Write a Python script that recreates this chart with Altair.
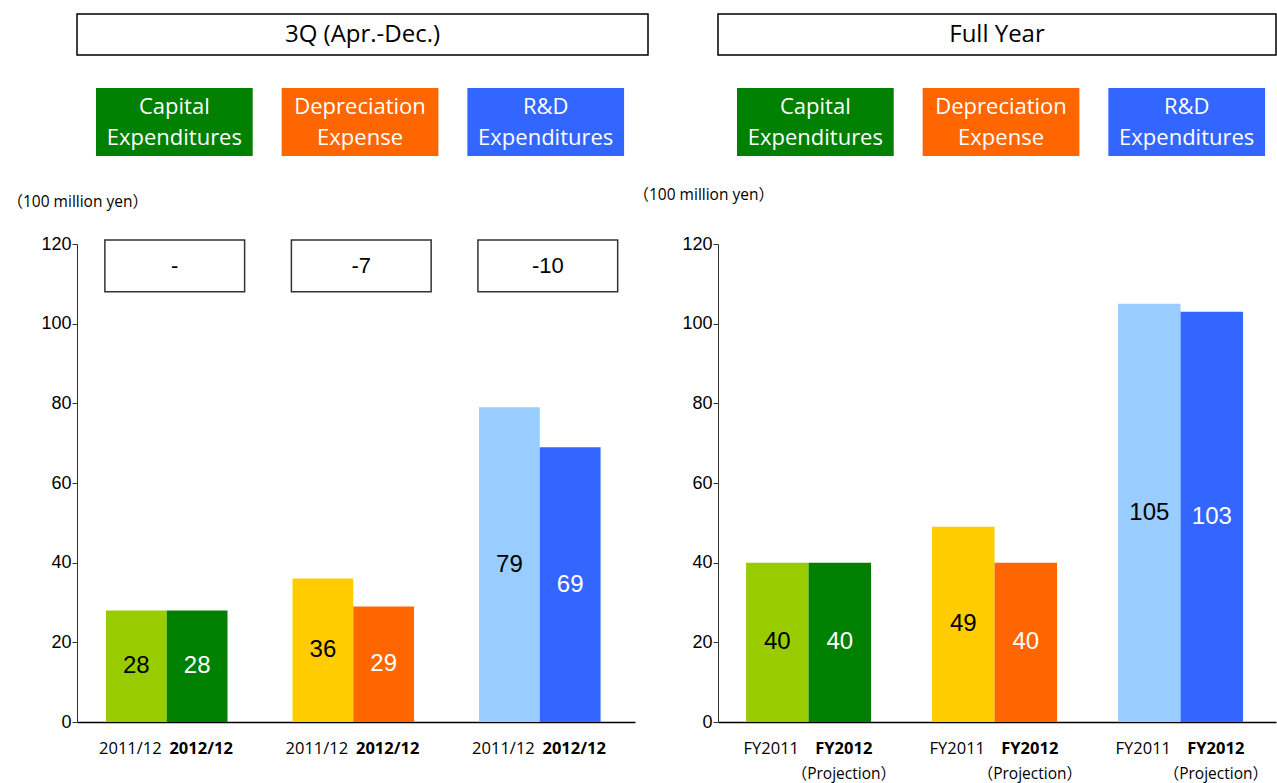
import altair as alt
import pandas as pd

# ---- data -------------------------------------------------------------
categories = ["Capital Expenditures", "Depreciation Expense", "R&D Expenditures"]
legend_lines = ["Capital\nExpenditures", "Depreciation\nExpense", "R&D\nExpenditures"]

q3_title = "3Q (Apr.-Dec.)"
q3_periods = ["2011/12", "2012/12"]
q3_capex = [28, 28]
q3_depreciation = [36, 29]
q3_rnd = [79, 69]
q3_change = ["-", "-7", "-10"]

fy_title = "Full Year"
fy_periods = ["FY2011", "FY2012"]
fy_notes = ["", "（Projection）"]
fy_capex = [40, 40]
fy_depreciation = [49, 40]
fy_rnd = [105, 103]

y_ticks = [0, 20, 40, 60, 80, 100, 120]
unit_label = "（100 million yen）"

# ---- styling ----------------------------------------------------------
prior_colors = ["#99CC00", "#FFCC00", "#99CCFF"]
current_colors = ["#008000", "#FF6600", "#3366FF"]
TXT_FONT = "'Open Sans', 'Noto Sans CJK JP', sans-serif"
NUM_FONT = "'Liberation Sans', Arial, sans-serif"
PANEL_W = 558
PLOT_H = 478

shade_domain = [f"{c}|{i}" for c in categories for i in (0, 1)]
shade_range = [col for pair in zip(prior_colors, current_colors) for col in pair]


def frame(periods, series, notes=None):
    rows = []
    for cat, vals in zip(categories, series):
        for i, (p, v) in enumerate(zip(periods, vals)):
            rows.append({
                "category": cat,
                "period": p,
                "value": v,
                "shade": f"{cat}|{i}",
                "note": notes[i] if notes else "",
            })
    return pd.DataFrame(rows)


def header(title, width):
    return alt.Chart(pd.DataFrame({"title": [title]})).mark_text(
        font=TXT_FONT, fontSize=24, baseline="middle", color="black"
    ).encode(text="title:N").properties(
        width=width, height=41,
        view=alt.ViewBackground(stroke="black", strokeWidth=1.5, fill="white"),
    )


def legend_row():
    ldf = pd.DataFrame({"category": categories, "label": legend_lines})
    base = alt.Chart(ldf).transform_calculate(slot="'box'")
    x = alt.X("category:N", sort=categories, axis=None,
              scale=alt.Scale(paddingInner=0.156, paddingOuter=0.0805, align=0.635))
    y = alt.Y("slot:N", axis=None,
              scale=alt.Scale(paddingInner=0, paddingOuter=0.404, align=0))
    boxes = base.mark_bar().encode(
        x=x, y=y,
        color=alt.Color("category:N", legend=None,
                        scale=alt.Scale(domain=categories, range=current_colors)),
    )
    text = base.mark_text(
        font=TXT_FONT, fontSize=22, color="white", lineBreak="\n",
        lineHeight=31, baseline="middle", dy=-15.5,
    ).encode(x=x, y=y, text="label:N")
    return alt.layer(boxes, text).properties(width=PANEL_W, height=123)


def bars_panel(df, periods, x_scale, title_x, title_y, change=None, notes=False):
    base = alt.Chart(df)
    x_axis = alt.Axis(labels=False, ticks=False, title=None,
                      domainColor="black", domainWidth=1.6)
    y_scale = alt.Scale(domain=[0, 120], nice=False, zero=True)
    y_axis = alt.Axis(
        values=y_ticks, grid=False, tickSize=5, tickColor="#333",
        domainColor="#333", domainWidth=1, labelFont=NUM_FONT,
        labelFontSize=18, labelColor="black", labelPadding=1,
        title=unit_label, titleAngle=0, titleAlign="left",
        titleBaseline="middle", titleX=title_x, titleY=title_y,
        titleFont=TXT_FONT, titleFontSize=15.5, titleFontWeight="normal",
        titleColor="black",
    )
    x_enc = alt.X("category:N", sort=categories, scale=x_scale, axis=x_axis)
    x_off = alt.XOffset("period:N", sort=periods,
                        scale=alt.Scale(paddingInner=0, paddingOuter=0))

    def y_field(field):
        return alt.Y(field, scale=y_scale, axis=y_axis)

    def y_const(v):
        return alt.YDatum(v, scale=y_scale, axis=y_axis)

    bars = base.mark_bar().encode(
        x=x_enc, xOffset=x_off, y=y_field("value:Q"),
        color=alt.Color("shade:N", legend=None,
                        scale=alt.Scale(domain=shade_domain, range=shade_range)),
    )

    values = base.transform_calculate(mid="datum.value / 2").mark_text(
        font=NUM_FONT, fontSize=24, baseline="middle"
    ).encode(
        x=x_enc, xOffset=x_off,
        y=y_field("mid:Q"),
        text="value:Q",
        color=alt.condition(alt.datum.period == periods[0],
                            alt.value("black"), alt.value("white")),
    )

    # period labels under each bar: the earlier one plain, the later one bold
    prior_lbl = base.transform_filter(alt.datum.period == periods[0]).mark_text(
        font=TXT_FONT, fontSize=16.5, baseline="middle", dy=27, dx=-6, color="black"
    ).encode(x=x_enc, xOffset=x_off, y=y_const(0), text="period:N")

    current_lbl = base.transform_filter(alt.datum.period == periods[1]).mark_text(
        font=TXT_FONT, fontSize=16.5, fontWeight="bold", baseline="middle", dy=27,
        dx=4, color="black",
    ).encode(x=x_enc, xOffset=x_off, y=y_const(0), text="period:N")

    layers = [bars, values, prior_lbl, current_lbl]

    if notes:
        note_lbl = base.transform_filter(alt.datum.period == periods[1]).mark_text(
            font=TXT_FONT, fontSize=15.5, baseline="middle", dy=52, dx=4, color="black"
        ).encode(x=x_enc, xOffset=x_off, y=y_const(0), text="note:N")
        layers.append(note_lbl)

    if change is not None:
        cdf = pd.DataFrame({"category": categories, "change": change})
        cbase = alt.Chart(cdf)
        box = cbase.mark_bar(
            fill="white", stroke="#333", strokeWidth=1.5,
            width=alt.RelativeBandSize(1.15), xOffset=8,
        ).encode(x=x_enc, y=y_const(108), y2=alt.Y2Datum(121))
        ctext = cbase.mark_text(
            font=NUM_FONT, fontSize=22, baseline="middle", dx=8, color="black"
        ).encode(x=x_enc, y=y_const(114.5), text="change:N")
        layers += [box, ctext]

    return alt.layer(*layers).properties(width=PANEL_W, height=PLOT_H)


q3_df = frame(q3_periods, [q3_capex, q3_depreciation, q3_rnd])
fy_df = frame(fy_periods, [fy_capex, fy_depreciation, fy_rnd], fy_notes)

left_bars = bars_panel(
    q3_df, q3_periods,
    alt.Scale(paddingInner=0.3485, paddingOuter=0.17, align=0.457),
    title_x=-70, title_y=-43, change=q3_change,
)
right_bars = bars_panel(
    fy_df, fy_periods,
    alt.Scale(paddingInner=0.328, paddingOuter=0.164, align=0.46),
    title_x=-85, title_y=-50, notes=True,
)

chart = alt.concat(
    header(q3_title, 571), header(fy_title, PANEL_W),
    legend_row(), legend_row(),
    left_bars, right_bars,
    columns=2,
    spacing=alt.RowColnumber(row=33, column=70),
    bounds="flush",
).resolve_scale(
    color="independent", xOffset="independent"
).properties(
    padding={"left": 7, "top": 13, "right": 0, "bottom": 0},
    background="white",
).configure_view(strokeWidth=0)

chart.save("out.html", embed_options={"renderer": "svg", "actions": False})
